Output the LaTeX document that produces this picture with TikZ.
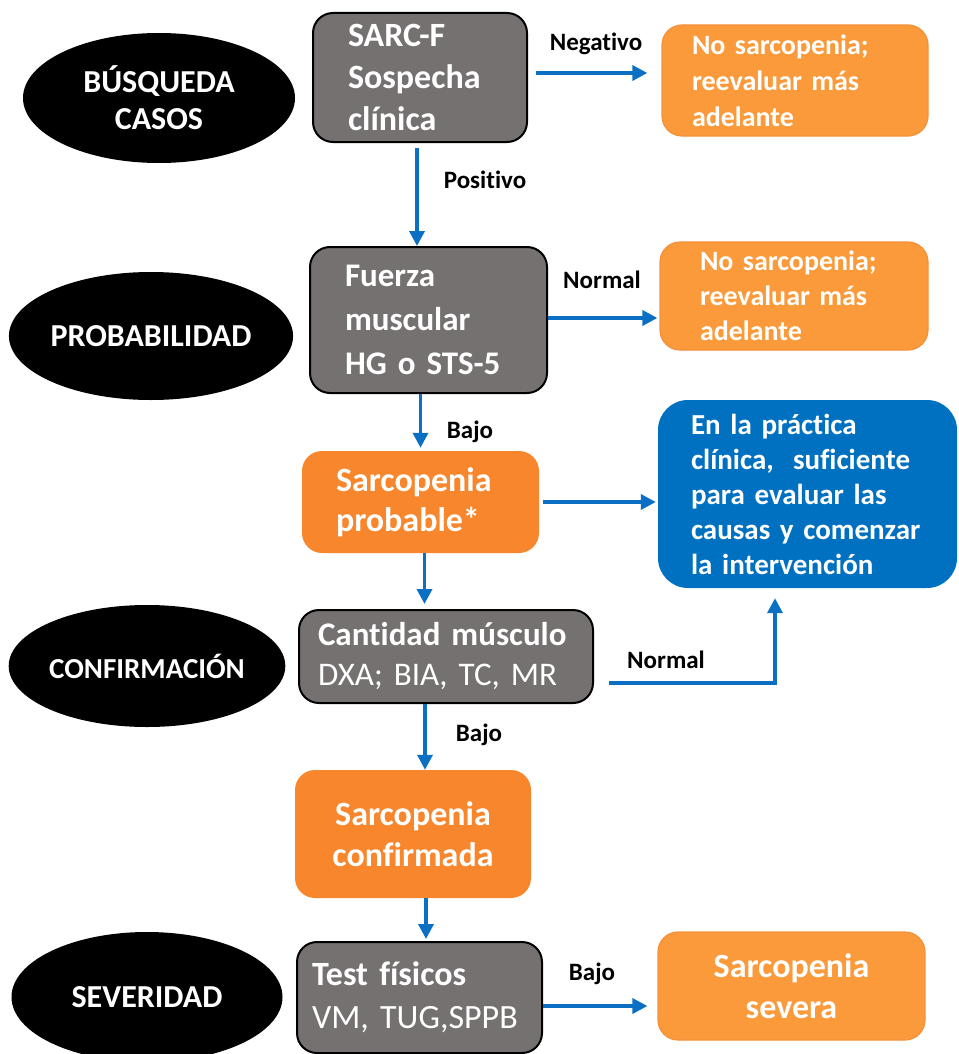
\documentclass[tikz,border=0pt]{standalone}
\usepackage{fontspec}
\setmainfont{Carlito}[Ligatures={NoCommon,NoRequired,NoContextual}, Contextuals=NoAlternate]
\usetikzlibrary{arrows.meta,shapes.geometric}

\definecolor{boxgray}{HTML}{767171}
\definecolor{paleorange}{HTML}{FB9A3A}
\definecolor{paleorangeline}{HTML}{F5903A}
\definecolor{deeporange}{HTML}{F7862C}
\definecolor{noteblue}{HTML}{0070C0}
\definecolor{arrowblue}{HTML}{0B70C4}

\tikzset{
  phase/.style={ellipse, fill=black, text=white, inner sep=0pt, align=center,
    font=\bfseries\fontsize{32}{37}\selectfont},
  testbox/.style={rectangle, rounded corners=20pt, draw=black, line width=2pt,
    fill=boxgray, text=white, align=left, inner ysep=0pt},
  resultbox/.style={rectangle, rounded corners=20pt, fill=paleorange,
    draw=paleorangeline, line width=1.2pt, text=white, inner ysep=0pt},
  stagebox/.style={rectangle, rounded corners=20pt, fill=deeporange,
    text=white, inner ysep=0pt},
  notebox/.style={rectangle, rounded corners=30pt, fill=noteblue,
    text=white, inner ysep=0pt, align=left},
  arr/.style={draw=arrowblue, line width=3.5pt, -{Triangle[length=15pt,width=15pt]}},
  lbl/.style={font=\bfseries\fontsize{25}{28}\selectfont}
}

\begin{document}
\begin{tikzpicture}[x=1pt,y=-1pt]
  \useasboundingbox (0,0) rectangle (958,1054);

  % fases
  \node[phase, minimum width=272pt, minimum height=130pt] (busq) at (159,98) {BÚSQUEDA\\CASOS};
  \node[phase, minimum width=273pt, minimum height=128pt] (probab) at (151,336) {PROBABILIDAD};
  \node[phase, minimum width=275pt, minimum height=122pt,
    font=\bfseries\fontsize{29}{34}\selectfont] (confirm) at (147,666) {CONFIRMACIÓN};
  \node[phase, minimum width=271pt, minimum height=130pt] (sever) at (147,997) {SEVERIDAD};

  % pruebas
  \node[testbox, minimum width=214pt, minimum height=129pt, inner xsep=35pt, text width=144pt,
    font=\bfseries\fontsize{34}{42}\selectfont] (sarcf) at (420,77.5) {SARC-F\\Sospecha\\clínica};
  \node[testbox, minimum width=237pt, minimum height=146pt, inner xsep=35pt, text width=167pt,
    font=\bfseries\fontsize{33}{44}\selectfont] (fuerza) at (428.5,320) {Fuerza\\muscular\\HG o STS-5};
  \node[testbox, minimum width=294pt, minimum height=93pt, inner xsep=19pt, text width=256pt,
    font=\fontsize{33}{40}\selectfont] (cantidad) at (446,656.5) {\textbf{Cantidad músculo}\\DXA; BIA, TC, MR};
  \node[testbox, minimum width=245pt, minimum height=111pt, inner xsep=15pt, text width=215pt,
    font=\fontsize{34}{43}\selectfont] (fisicos) at (419.5,997.5) {\textbf{Test físicos}\\VM, TUG,SPPB};

  % resultados
  \node[resultbox, minimum width=266pt, minimum height=111pt, inner xsep=30pt, text width=206pt,
    align=left, font=\bfseries\fontsize{28}{36}\selectfont] (nosar1) at (795,80.5) {No sarcopenia;\\reevaluar más\\adelante};
  \node[resultbox, minimum width=268pt, minimum height=108pt, inner xsep=40pt, text width=188pt,
    align=left, font=\bfseries\fontsize{28}{35}\selectfont] (nosar2) at (794,296) {No sarcopenia;\\reevaluar más\\adelante};
  \node[stagebox, minimum width=237pt, minimum height=102pt, inner xsep=34pt, text width=169pt,
    align=left, font=\bfseries\fontsize{34}{40}\selectfont] (probable) at (420.5,502) {Sarcopenia\\probable*};
  \node[notebox, minimum width=299pt, minimum height=188pt, inner xsep=33pt, text width=233pt,
    font=\bfseries\fontsize{29}{35}\selectfont] (practica) at (807.5,494)
    {En la práctica\\clínica,~ suficiente\\para evaluar las\\causas y comenzar\\la intervención};
  \node[stagebox, minimum width=236pt, minimum height=128pt, align=center,
    font=\bfseries\fontsize{34}{41}\selectfont] (confirmada) at (413,834) {Sarcopenia\\confirmada};
  \node[resultbox, minimum width=267pt, minimum height=108pt, align=center,
    font=\bfseries\fontsize{34}{41}\selectfont] (severa) at (791.5,986) {Sarcopenia\\severa};

  % etiquetas
  \node[lbl] (lneg) at (596,44) {Negativo};
  \node[lbl] (lpos) at (485,180) {Positivo};
  \node[lbl] (lnor1) at (602,280) {Normal};
  \node[lbl] (lbaj1) at (470,432) {Bajo};
  \node[lbl] (lnor2) at (666,660) {Normal};
  \node[lbl] (lbaj2) at (479,735) {Bajo};
  \node[lbl] (lbaj3) at (592,974) {Bajo};

  % flechas
  \draw[arr] ([xshift=8pt,yshift=4.5pt]sarcf.east) -- ([xshift=-14pt,yshift=4.5pt]sarcf.east -| nosar1.west);
  \draw[arr] ([xshift=-3pt,yshift=-5pt]sarcf.south) -- ([xshift=-3pt]sarcf.south |- fuerza.north);
  \draw[arr] ([yshift=2pt]fuerza.east) -- ([xshift=-2pt,yshift=2pt]fuerza.east -| nosar2.west);
  \draw[arr] (probable.north |- fuerza.south) -- ([yshift=3pt]probable.north);
  \draw[arr] ([xshift=4pt]probable.east) -- ([xshift=-2pt]probable.east -| practica.west);
  \draw[arr] ([xshift=4pt]probable.south) -- ([xshift=4pt,yshift=5pt]probable.south |- cantidad.north);
  \draw[arr] ([xshift=15pt,yshift=-26.5pt]cantidad.east) -| ([xshift=-32.5pt,yshift=-10pt]practica.south);
  \draw[arr] ([xshift=-21pt]cantidad.south) -- ([xshift=-21pt]cantidad.south |- confirmada.north);
  \draw[arr] ([xshift=13pt]confirmada.south) -- ([xshift=13pt,yshift=2pt]confirmada.south |- fisicos.north);
  \draw[arr] ([yshift=-8.5pt]fisicos.east) -- ([xshift=-10pt,yshift=-8.5pt]fisicos.east -| severa.west);
\end{tikzpicture}
\end{document}
